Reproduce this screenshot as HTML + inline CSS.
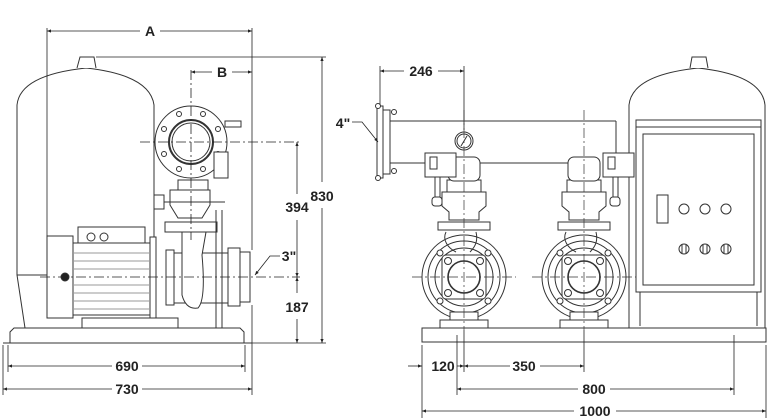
<!DOCTYPE html>
<html><head><style>
html,body{margin:0;padding:0;background:#fff;}
svg{display:block;}
text{font-family:"Liberation Sans",sans-serif;font-weight:bold;font-size:14px;fill:#222;}
</style></head><body>
<svg width="768" height="418" viewBox="0 0 768 418" xmlns="http://www.w3.org/2000/svg">
<defs>
<marker id="ar" viewBox="0 0 10 10" refX="10" refY="5" markerWidth="7" markerHeight="5" orient="auto-start-reverse"><path d="M0,1 L10,5 L0,9 z" fill="#222"/></marker>
<g id="pump" stroke="#333" stroke-width="1" fill="#fff">
  <circle cx="0" cy="277" r="42"/>
  <circle cx="0" cy="277" r="36"/>
  <circle cx="0" cy="277" r="29"/>
  <rect x="-22" y="255" width="44" height="44" rx="4"/>
  <circle cx="0" cy="277" r="16" stroke-width="1.6"/>
  <circle cx="-16" cy="261" r="3.5"/><circle cx="16" cy="261" r="3.5"/>
  <circle cx="-16" cy="293" r="3.5"/><circle cx="16" cy="293" r="3.5"/>
  <circle cx="-24" cy="253" r="3"/><circle cx="24" cy="253" r="3"/>
  <circle cx="-24" cy="301" r="3"/><circle cx="24" cy="301" r="3"/>
  <path d="M-18,232 C-22,240 -16,248 -8,252 M12,232 C14,240 12,246 6,252" fill="none"/>
  <rect x="-14" y="312" width="28" height="8"/>
  <rect x="-24" y="320" width="48" height="8"/>
  <rect x="-26" y="222" width="52" height="8"/>
  <path d="M-15,220 L-15,212 L-22,206 L-22,192 L22,192 L22,206 L15,212 L15,220 Z"/>
  <rect x="-17" y="180" width="34" height="12"/>
  <rect x="-16" y="157" width="32" height="24" rx="6"/>
  <line x1="0" y1="110" x2="0" y2="330" stroke-dasharray="10,3,2,3" stroke-width="0.7"/>
  <line x1="-52" y1="277" x2="52" y2="277" stroke-dasharray="10,3,2,3" stroke-width="0.7"/>
</g>
</defs>

<g stroke="#333" stroke-width="1" fill="#fff">
<!-- LEFT VIEW -->
<path d="M17,275 L17,105 Q20,75 86,68 Q150,75 154,105 L154,328 L25,328 L17,275 Z"/>
<path d="M77,68 L80,57 L94,57 L96,68"/>
<line x1="17" y1="275" x2="47" y2="275"/>
<!-- base -->
<path d="M10,343 L10,332 L14,328 L240,328 L244,332 L244,343 Z"/>
<line x1="3" y1="343" x2="252" y2="343"/>
<!-- motor -->
<rect x="78" y="227" width="67" height="18"/>
<circle cx="91" cy="237" r="4"/><circle cx="104" cy="237" r="4"/>
<rect x="47" y="236" width="26" height="82"/>
<rect x="73" y="243" width="77" height="72"/>
<rect x="150" y="237" width="6" height="82"/>
<g stroke-width="0.6">
<line x1="74" y1="253" x2="149" y2="253"/><line x1="74" y1="261" x2="149" y2="261"/><line x1="74" y1="269" x2="149" y2="269"/><line x1="74" y1="285" x2="149" y2="285"/><line x1="74" y1="293" x2="149" y2="293"/><line x1="74" y1="301" x2="149" y2="301"/><line x1="74" y1="309" x2="149" y2="309"/>
</g>
<rect x="82" y="318" width="96" height="10"/>
<circle cx="65" cy="277" r="4" fill="#222"/>
<!-- pump body -->
<rect x="166" y="250" width="8" height="55"/>
<rect x="174" y="253" width="60" height="50"/>
<rect x="228" y="248" width="12" height="58"/>
<rect x="240" y="252" width="10" height="50"/>
<path d="M182,232 L182,295 Q186,310 198,308 Q206,300 202,255 L206,232" fill="#fff"/>
<rect x="165" y="222" width="52" height="10"/>
<path d="M170,205 L170,190 L210,190 L210,205 L202,218 L178,218 Z"/>
<rect x="178" y="180" width="30" height="10"/>
<rect x="154" y="195" width="10" height="14"/>
<line x1="164" y1="202" x2="225" y2="202"/>
<line x1="216" y1="210" x2="216" y2="328"/><line x1="222" y1="210" x2="222" y2="328"/>
<!-- flange -->
<circle cx="191" cy="142" r="36"/>
<circle cx="191" cy="142" r="22" stroke-width="2"/>
<circle cx="191" cy="142" r="19"/>
<g fill="#fff"><circle cx="179" cy="114" r="2.5"/><circle cx="203" cy="114" r="2.5"/><circle cx="164" cy="129" r="2.5"/><circle cx="218" cy="129" r="2.5"/><circle cx="164" cy="154" r="2.5"/><circle cx="218" cy="154" r="2.5"/><circle cx="179" cy="169" r="2.5"/><circle cx="203" cy="169" r="2.5"/></g>
<rect x="225" y="121" width="16" height="6"/>
<rect x="214" y="152" width="14" height="26"/>
</g>

<g stroke="#222" stroke-width="0.8" fill="none">
<line x1="191" y1="70" x2="191" y2="240" stroke-dasharray="10,3,2,3"/>
<line x1="140" y1="142" x2="300" y2="142" stroke-dasharray="10,3,2,3"/>
<line x1="40" y1="277" x2="300" y2="277" stroke-dasharray="10,3,2,3"/>
<line x1="47" y1="28" x2="47" y2="236"/>
<line x1="252" y1="28" x2="252" y2="250"/>
<line x1="252" y1="305" x2="252" y2="395"/>
<line x1="3" y1="345" x2="3" y2="395"/>
<line x1="8" y1="345" x2="8" y2="372"/>
<line x1="245" y1="345" x2="245" y2="372"/>
<line x1="96" y1="57" x2="326" y2="57"/>
<line x1="252" y1="343" x2="326" y2="343"/>
<line x1="47" y1="31" x2="140" y2="31" marker-start="url(#ar)"/>
<line x1="160" y1="31" x2="252" y2="31" marker-end="url(#ar)"/>
<line x1="191" y1="72" x2="212" y2="72" marker-start="url(#ar)"/>
<line x1="232" y1="72" x2="252" y2="72" marker-end="url(#ar)"/>
<line x1="322" y1="57" x2="322" y2="182" marker-start="url(#ar)"/>
<line x1="322" y1="208" x2="322" y2="343" marker-end="url(#ar)"/>
<line x1="297" y1="142" x2="297" y2="194" marker-start="url(#ar)"/>
<line x1="297" y1="220" x2="297" y2="277" marker-end="url(#ar)"/>
<line x1="297" y1="277" x2="297" y2="293" marker-start="url(#ar)"/>
<line x1="297" y1="319" x2="297" y2="343" marker-end="url(#ar)"/>
<line x1="8" y1="366" x2="112" y2="366" marker-start="url(#ar)"/>
<line x1="142" y1="366" x2="245" y2="366" marker-end="url(#ar)"/>
<line x1="3" y1="389" x2="112" y2="389" marker-start="url(#ar)"/>
<line x1="142" y1="389" x2="252" y2="389" marker-end="url(#ar)"/>
<polyline points="280,256 270,256 255,275" marker-end="url(#ar)"/>
</g>
<text x="150" y="36" text-anchor="middle">A</text>
<text x="222" y="77" text-anchor="middle">B</text>
<text x="322" y="201" text-anchor="middle">830</text>
<text x="297" y="212" text-anchor="middle">394</text>
<text x="297" y="312" text-anchor="middle">187</text>
<text x="289" y="261" text-anchor="middle">3"</text>
<text x="127" y="371" text-anchor="middle">690</text>
<text x="127" y="394" text-anchor="middle">730</text>

<!-- RIGHT VIEW -->
<g stroke="#333" stroke-width="1" fill="#fff">
<path d="M629,328 L629,105 Q632,75 698,68 Q762,75 765,105 L765,328 Z"/>
<path d="M690,68 L692,57 L706,57 L708,68"/>
<rect x="636" y="120" width="125" height="172"/>
<line x1="636" y1="127" x2="761" y2="127"/>
<rect x="643" y="134" width="111" height="151"/>
<line x1="640" y1="292" x2="640" y2="326"/><line x1="757" y1="292" x2="757" y2="326"/>
<rect x="657" y="195" width="11" height="28"/>
<circle cx="684" cy="209" r="5"/><circle cx="705" cy="209" r="5"/><circle cx="726" cy="209" r="5"/>
<circle cx="684" cy="249" r="5"/><circle cx="705" cy="249" r="5"/><circle cx="726" cy="249" r="5"/>
<line x1="682" y1="245" x2="682" y2="253"/><line x1="686" y1="245" x2="686" y2="253"/>
<line x1="703" y1="245" x2="703" y2="253"/><line x1="707" y1="245" x2="707" y2="253"/>
<line x1="724" y1="245" x2="724" y2="253"/><line x1="728" y1="245" x2="728" y2="253"/>
<rect x="422" y="328" width="344" height="14"/>
<!-- pipes -->
<line x1="390" y1="121" x2="616" y2="121"/>
<line x1="616" y1="121" x2="616" y2="153"/>
<line x1="390" y1="163" x2="425" y2="163"/>
<line x1="480" y1="163" x2="568" y2="163"/>
<rect x="377" y="106" width="6" height="72"/>
<rect x="383" y="110" width="7" height="64"/>
<circle cx="394" cy="112" r="2.5"/><circle cx="394" cy="171" r="2.5"/>
<circle cx="378" cy="106" r="2.5"/><circle cx="378" cy="178" r="2.5"/>
<circle cx="464" cy="141" r="9"/><circle cx="464" cy="141" r="7"/>
<line x1="461" y1="146" x2="467" y2="136"/>
</g>
<use href="#pump" x="464" y="0"/>
<use href="#pump" x="584" y="0"/>
<g stroke="#333" stroke-width="1" fill="#fff">
<rect x="425" y="153" width="31" height="24"/><rect x="430" y="157" width="7" height="12"/>
<rect x="603" y="153" width="31" height="24"/><rect x="608" y="157" width="7" height="12"/>
<rect x="435" y="177" width="5" height="20"/><rect x="432" y="197" width="10" height="9" rx="3"/>
<rect x="613" y="177" width="5" height="20"/><rect x="610" y="197" width="10" height="9" rx="3"/>
</g>
<g stroke="#222" stroke-width="0.8" fill="none">
<line x1="380" y1="66" x2="380" y2="105"/>
<line x1="464" y1="66" x2="464" y2="130"/>
<line x1="380" y1="71" x2="404" y2="71" marker-start="url(#ar)"/>
<line x1="438" y1="71" x2="464" y2="71" marker-end="url(#ar)"/>
<polyline points="352,122 362,122 378,142" marker-end="url(#ar)"/>
<line x1="422" y1="345" x2="422" y2="418"/>
<line x1="457" y1="335" x2="457" y2="395"/>
<line x1="464" y1="330" x2="464" y2="372"/>
<line x1="584" y1="330" x2="584" y2="372"/>
<line x1="734" y1="335" x2="734" y2="395"/>
<line x1="766" y1="345" x2="766" y2="418"/>
<line x1="408" y1="366" x2="422" y2="366" marker-end="url(#ar)"/>
<line x1="457" y1="366" x2="464" y2="366" marker-end="url(#ar)"/>
<line x1="464" y1="366" x2="510" y2="366" marker-start="url(#ar)"/>
<line x1="540" y1="366" x2="584" y2="366" marker-end="url(#ar)"/>
<line x1="457" y1="389" x2="578" y2="389" marker-start="url(#ar)"/>
<line x1="610" y1="389" x2="734" y2="389" marker-end="url(#ar)"/>
<line x1="422" y1="411" x2="574" y2="411" marker-start="url(#ar)"/>
<line x1="616" y1="411" x2="766" y2="411" marker-end="url(#ar)"/>
</g>
<text x="421" y="76" text-anchor="middle">246</text>
<text x="343" y="128" text-anchor="middle">4"</text>
<text x="443" y="371" text-anchor="middle">120</text>
<text x="524" y="371" text-anchor="middle">350</text>
<text x="594" y="394" text-anchor="middle">800</text>
<text x="595" y="416" text-anchor="middle">1000</text>
</svg>
</body></html>
